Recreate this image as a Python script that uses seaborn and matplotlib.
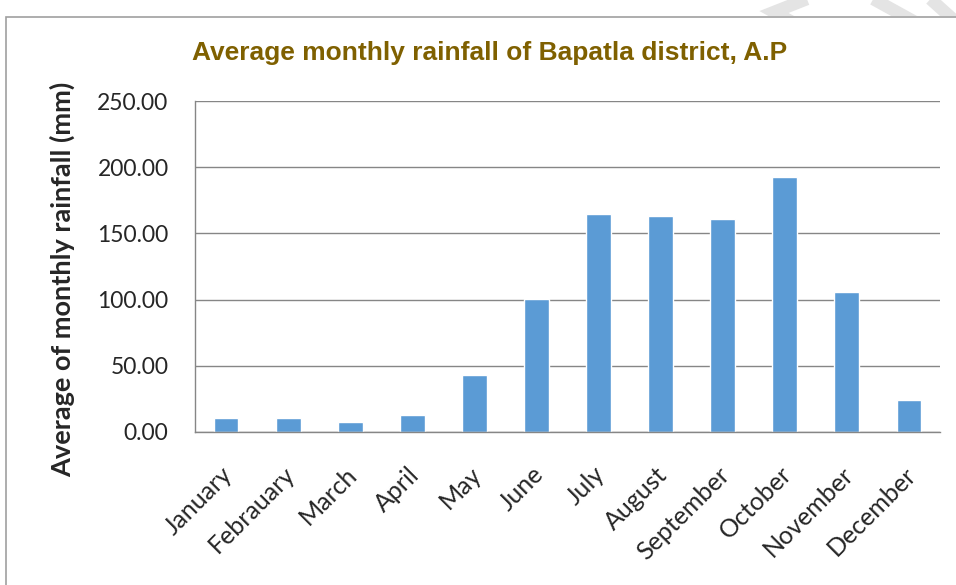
import numpy as np
import pandas as pd
import seaborn as sns
import matplotlib.pyplot as plt
import matplotlib.transforms as mtransforms
from matplotlib.patches import Rectangle
from matplotlib.lines import Line2D

months = ["January", "Febrauary", "March", "April", "May", "June", "July",
          "August", "September", "October", "November", "December"]
rainfall = [10.9, 10.9, 7.3, 12.8, 42.7, 100.2, 164.7, 163.4, 161.2, 192.6, 105.4, 23.9]
y_ticks = [0, 50, 100, 150, 200, 250]

df = pd.DataFrame({"month": months, "rainfall": rainfall})

sns.set_style("white")
plt.rcParams['font.family'] = ['Lato', 'DejaVu Sans']

W, H = 956, 585
grid_col = "#868686"
fig = plt.figure(figsize=(W / 100, H / 100), dpi=100)


def px(x, y):
    # pixel position -> figure fraction
    return x / W, 1 - y / H


# chart frame (only left and top edges are inside the picture)
fig.patches.append(Rectangle(px(6, 700), 1.2, (700 - 17) / H,
                             transform=fig.transFigure, fill=False,
                             edgecolor="#a0a0a0", lw=1.2))

# faint watermark strokes above the frame
clip = Rectangle((0, 1 - 16 / H), 1, 16 / H, transform=fig.transFigure)
for pts in [[(812, -3), (774, 12), (792, 22)],
            [(866, -5), (915, 22)],
            [(926, -5), (956, 22)]]:
    xs, ys = zip(*[px(*p) for p in pts])
    ln = Line2D(xs, ys, transform=fig.transFigure, color="#e4e4e4", lw=9,
                solid_capstyle="butt", solid_joinstyle="miter")
    ln.set_clip_path(clip)
    fig.lines.append(ln)

ax = fig.add_axes([195 / W, 153 / H, 745 / W, 331 / H])
sns.barplot(data=df, x="month", y="rainfall", color="#5B9BD5",
            width=0.4, saturation=1, ax=ax)

ax.set_ylim(0, 250)
ax.set_yticks(y_ticks)
ax.set_yticklabels([f"{v:.2f}" for v in y_ticks], fontsize=16.5)
ax.yaxis.grid(True, color=grid_col, lw=1)
ax.set_axisbelow(True)
ax.tick_params(axis="y", length=7, color=grid_col, width=1, pad=12)

ax.set_xlim(-0.5, len(months) - 0.5)
ax.set_xticks(range(len(months)))
ax.set_xticklabels(months, rotation=45, ha="right", rotation_mode="anchor", fontsize=18)
ax.tick_params(axis="x", which="major", length=0, pad=22)
ax.set_xticks(np.arange(-0.5, len(months)), minor=True)
ax.tick_params(axis="x", which="minor", length=7, color=grid_col, width=1)
shift = mtransforms.ScaledTranslation(-5 / 100, 0, fig.dpi_scale_trans)
for lbl in ax.get_xticklabels():
    lbl.set_transform(lbl.get_transform() + shift)

for s in ["top", "right"]:
    ax.spines[s].set_visible(False)
for s in ["left", "bottom"]:
    ax.spines[s].set_color(grid_col)
    ax.spines[s].set_linewidth(1)

ax.set_xlabel("")
ax.set_ylabel("")
fig.text(62 / W, 1 - 279 / H, "Average of monthly rainfall (mm)", rotation=90,
         ha="center", va="center", fontsize=19.5, fontweight="bold")
fig.text(490 / W, 1 - 53 / H, "Average monthly rainfall of Bapatla district, A.P",
         ha="center", va="center", fontsize=19, fontweight="bold",
         color="#7F6000", family="Liberation Sans")

fig.savefig("out.png", dpi=100)
